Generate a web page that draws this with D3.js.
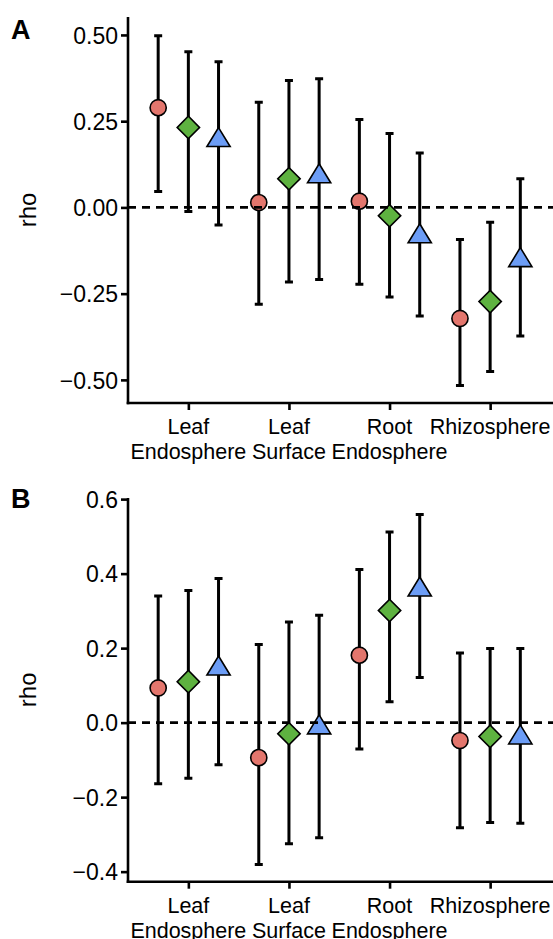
<!DOCTYPE html>
<html>
<head>
<meta charset="utf-8">
<script src="https://cdn.jsdelivr.net/npm/d3@7"></script>
<style>
  body { margin: 0; background: #fff; }
  svg text { font-family: "Liberation Sans", Arial, sans-serif; fill: #000; }
</style>
</head>
<body>
<div id="chart"></div>
<script>
// categories and groups
var categories = ["Leaf Endosphere", "Leaf Surface", "Root Endosphere", "Rhizosphere"];
var catLines = [["Leaf", "Endosphere"], ["Leaf", "Surface"], ["Root", "Endosphere"], ["Rhizosphere"]];

// panel A values (estimate, lower, upper) per group, in category order
var aEst1 = [0.289, 0.014, 0.018, -0.322];
var aLo1  = [0.046, -0.281, -0.223, -0.516];
var aHi1  = [0.498, 0.305, 0.255, -0.093];
var aEst2 = [0.232, 0.083, -0.024, -0.273];
var aLo2  = [-0.012, -0.216, -0.260, -0.476];
var aHi2  = [0.451, 0.368, 0.214, -0.043];
var aEst3 = [0.195, 0.090, -0.084, -0.153];
var aLo3  = [-0.051, -0.209, -0.315, -0.373];
var aHi3  = [0.422, 0.373, 0.158, 0.083];

// panel B values
var bEst1 = [0.093, -0.094, 0.181, -0.048];
var bLo1  = [-0.164, -0.381, -0.071, -0.282];
var bHi1  = [0.340, 0.210, 0.411, 0.187];
var bEst2 = [0.110, -0.030, 0.301, -0.037];
var bLo2  = [-0.149, -0.325, 0.056, -0.268];
var bHi2  = [0.355, 0.270, 0.512, 0.199];
var bEst3 = [0.145, -0.013, 0.357, -0.040];
var bLo3  = [-0.113, -0.309, 0.121, -0.270];
var bHi3  = [0.387, 0.288, 0.559, 0.199];

var aTicks = [0.5, 0.25, 0, -0.25, -0.5];
var aTickLabels = ["0.50", "0.25", "0.00", "\u22120.25", "\u22120.50"];
var bTicks = [0.6, 0.4, 0.2, 0, -0.2, -0.4];
var bTickLabels = ["0.6", "0.4", "0.2", "0.0", "\u22120.2", "\u22120.4"];

var colors = ["#E3766D", "#5EB240", "#6C9DF6"];

function buildRows(est, lo, hi){
    var rows = [];
    for (var g = 0; g < 3; g++) {
        for (var c = 0; c < categories.length; c++) {
            rows.push({cat: categories[c], g: g, est: est[g][c], lo: lo[g][c], hi: hi[g][c]});
        }
    }
    return rows;
}

var W = 553, H = 939;
var svg = d3.select("#chart").append("svg")
    .attr("width", W).attr("height", H);

function drawPanel(opt){
    var left = 128, right = 550.5;
    var x = d3.scalePoint().domain(categories).range([left, right]).padding(0.6);
    var y = d3.scaleLinear().domain(opt.domain).range([opt.bottom, opt.top]);
    var dodge = x.step() * 0.3;
    var g = svg.append("g");

    // panel letter
    g.append("text").attr("x", 11).attr("y", opt.letterY)
        .style("font-size", "27px").style("font-weight", "bold")
        .text(opt.letter);

    // y title
    var midY = (opt.top + opt.bottom) / 2;
    g.append("text")
        .attr("transform", "translate(36," + midY + ") rotate(-90)")
        .attr("text-anchor", "middle")
        .style("font-size", "24px")
        .text("rho");

    // y axis
    var yAxis = d3.axisLeft(y).tickValues(opt.ticks)
        .tickFormat(function(d, i){ return opt.tickLabels[i]; })
        .tickSizeInner(7).tickSizeOuter(0).tickPadding(3);
    var ya = g.append("g").attr("transform", "translate(" + left + ",0)").call(yAxis);
    ya.select(".domain").attr("stroke-width", 2.6).attr("d", "M0," + opt.top + "V" + (opt.bottom + 1.3));
    ya.selectAll(".tick line").attr("stroke-width", 2.6);
    ya.selectAll(".tick text").style("font-size", "23px").attr("dy", "0.36em").attr("fill", "#000");

    // x axis
    var xAxis = d3.axisBottom(x).tickSizeInner(7).tickSizeOuter(0).tickFormat("");
    var xa = g.append("g").attr("transform", "translate(0," + opt.bottom + ")").call(xAxis);
    xa.select(".domain").attr("stroke-width", 2.6).attr("d", "M" + (left - 1.3) + ",0H" + W);
    xa.selectAll(".tick line").attr("stroke-width", 2.6);

    // category labels (two lines)
    categories.forEach(function(c, i){
        var t = g.append("text").attr("text-anchor", "middle").style("font-size", "21.5px");
        catLines[i].forEach(function(line, k){
            t.append("tspan").attr("x", x(c)).attr("y", opt.bottom + 31 + k * 25).text(line);
        });
    });

    var rows = opt.rows;
    function px(d){ return x(d.cat) + (d.g - 1) * dodge; }

    // error bars
    var eb = g.append("g").attr("stroke", "#000").attr("stroke-width", 3).attr("fill", "none");
    eb.selectAll("path").data(rows).enter().append("path")
        .attr("d", function(d){
            var cx = px(d), y1 = y(d.hi), y2 = y(d.lo), cw = 4;
            return "M" + cx + "," + y1 + "V" + y2 +
                   "M" + (cx - cw) + "," + y1 + "H" + (cx + cw) +
                   "M" + (cx - cw) + "," + y2 + "H" + (cx + cw);
        });

    // points
    g.append("g").selectAll("path").data(rows).enter().append("path")
        .attr("transform", function(d){
            var rot = d.g === 1 ? " rotate(45)" : "";
            return "translate(" + px(d) + "," + y(d.est) + ")" + rot;
        })
        .attr("d", function(d){
            if (d.g === 1) return d3.symbol().type(d3.symbolSquare).size(250)();
            if (d.g === 2) {
                // triangle with centroid at value, R pch 24 proportions
                var s = 11.6, top = -12.6, bot = 6.4;
                return "M0," + top + "L" + s + "," + bot + "L" + (-s) + "," + bot + "Z";
            }
            return d3.symbol().type(d3.symbolCircle).size(205)();
        })
        .attr("fill", function(d){ return colors[d.g]; })
        .attr("stroke", "#000").attr("stroke-width", 1.6);

    // dashed zero line
    g.append("line")
        .attr("x1", left).attr("x2", W)
        .attr("y1", y(0)).attr("y2", y(0))
        .attr("stroke", "#000").attr("stroke-width", 2.6)
        .attr("stroke-dasharray", "8,6");
}

drawPanel({
    letter: "A", letterY: 39, top: 17, bottom: 403, domain: [-0.567, 0.552],
    ticks: aTicks, tickLabels: aTickLabels,
    rows: buildRows([aEst1, aEst2, aEst3], [aLo1, aLo2, aLo3], [aHi1, aHi2, aHi3])
});
drawPanel({
    letter: "B", letterY: 508, top: 498, bottom: 881.7, domain: [-0.427, 0.603],
    ticks: bTicks, tickLabels: bTickLabels,
    rows: buildRows([bEst1, bEst2, bEst3], [bLo1, bLo2, bLo3], [bHi1, bHi2, bHi3])
});
</script>
</body>
</html>
